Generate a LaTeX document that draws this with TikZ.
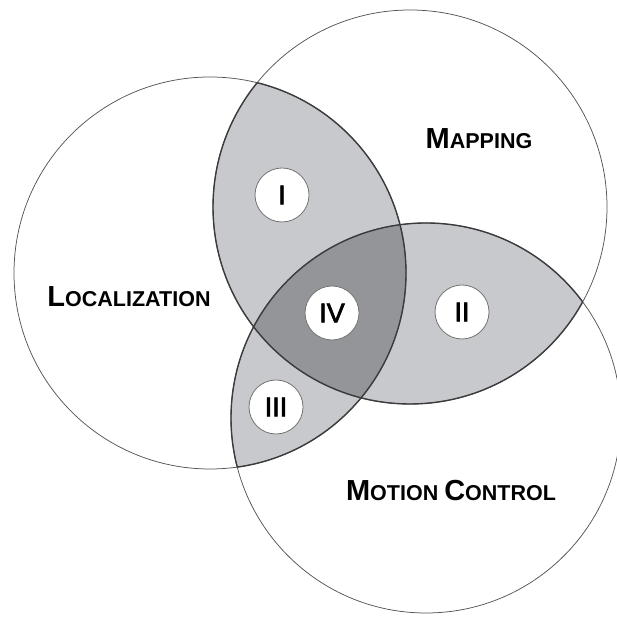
\documentclass[tikz,border=0pt]{standalone}
\usepackage{fontspec}
\setmainfont{Liberation Sans}
\newfontfamily\numfont[FakeBold=2.5]{Liberation Sans}
\definecolor{lensgray}{RGB}{199,201,204}
\definecolor{coregray}{RGB}{147,149,152}
\definecolor{ringgray}{RGB}{85,85,85}
\definecolor{lensedge}{RGB}{60,60,62}
\newcommand\sctext[2]{{\fontsize{29}{29}\selectfont #1}{\fontsize{21.5}{21.5}\selectfont #2}}
\begin{document}
\begin{tikzpicture}[x=1pt,y=1pt,
  ring/.style={draw=ringgray, line width=0.75pt},
  lensline/.style={draw=lensedge, line width=1.4pt},
  badge/.style={circle, draw=black!55, line width=0.8pt, fill=white, minimum size=54pt, inner sep=0pt, font=\numfont\fontsize{27}{27}\selectfont},
  title/.style={font=\bfseries, inner sep=0pt}]
\useasboundingbox (0,0) rectangle (616,617);
\coordinate (L) at (210,344);
\coordinate (M) at (410,410);
\coordinate (C) at (426,199);
% pairwise overlaps
\begin{scope}
  \clip (L) circle[radius=196];
  \fill[lensgray] (M) circle[radius=197];
  \fill[lensgray] (C) circle[radius=195];
\end{scope}
\begin{scope}
  \clip (M) circle[radius=197];
  \fill[lensgray] (C) circle[radius=195];
\end{scope}
% triple overlap
\begin{scope}
  \clip (L) circle[radius=196];
  \clip (M) circle[radius=197];
  \fill[coregray] (C) circle[radius=195];
\end{scope}
% outer circles
\draw[ring] (L) circle[radius=196];
\draw[ring] (M) circle[radius=197];
\draw[ring] (C) circle[radius=195];
% inner lens boundaries
\begin{scope}
  \clip (M) circle[radius=197] (C) circle[radius=195];
  \draw[lensline] (L) circle[radius=196];
\end{scope}
\begin{scope}
  \clip (L) circle[radius=196] (C) circle[radius=195];
  \draw[lensline] (M) circle[radius=197];
\end{scope}
\begin{scope}
  \clip (L) circle[radius=196] (M) circle[radius=197];
  \draw[lensline] (C) circle[radius=195];
\end{scope}
% region badges
\node[badge] (r1) at (282,422) {I};
\node[badge] (r4) at (332,304) {IV};
\node[badge] (r2) at (462,305) {II};
\node[badge] (r3) at (276,210) {III};
% titles
\node[title] (tloc) at (129,320) {\sctext{L}{OCALIZATION}};
\node[title] (tmap) at (479,478) {\sctext{M}{APPING}};
\node[title] (tmot) at (451,126) {\sctext{M}{OTION }\sctext{C}{ONTROL}};
\end{tikzpicture}
\end{document}
